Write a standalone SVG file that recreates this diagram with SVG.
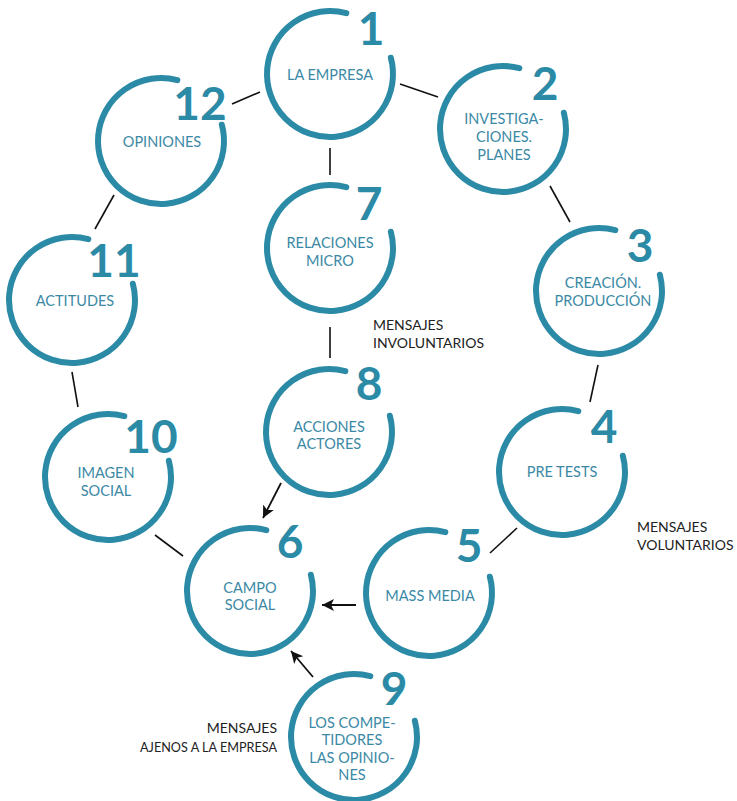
<svg xmlns="http://www.w3.org/2000/svg" xmlns:xlink="http://www.w3.org/1999/xlink" width="737" height="801" viewBox="0 0 737 801">
  <style>
    .ring { fill: none; stroke: #2b8aa6; stroke-width: 6; stroke-linecap: round; }
    .num { font-family: Lato, "Liberation Sans", sans-serif; font-weight: 700; font-size: 46px; fill: #2b8aa6; text-anchor: middle; }
    .lbl { font-family: Lato, "Liberation Sans", sans-serif; font-size: 14.5px; fill: #3b89a5; text-anchor: middle; }
    .note { font-family: Lato, "Liberation Sans", sans-serif; font-size: 14px; fill: #222; }
    .link { stroke: #111; stroke-width: 1.6; fill: none; }
    .arrow { stroke: #111; stroke-width: 1.8; fill: none; marker-end: url(#head); }
  </style>
  <defs>
    <!-- open ring, gap at upper right for the step number -->
    <path id="ring" class="ring" d="M 60.85 -16.31 A 63 63 0 1 1 16.31 -60.85"/>
    <marker id="head" markerUnits="userSpaceOnUse" markerWidth="14" markerHeight="14" refX="12" refY="6" orient="auto">
      <path d="M0,0 L12,6 L0,12 L3,6 Z" fill="#111"/>
    </marker>
  </defs>
  <rect width="737" height="801" fill="#fff"/>

  <g id="connectors">
    <line class="link" x1="232" y1="104" x2="260" y2="92"/>
    <line class="link" x1="400" y1="84" x2="438" y2="97"/>
    <line class="link" x1="330" y1="148" x2="330" y2="175"/>
    <line class="link" x1="550" y1="186" x2="570" y2="222"/>
    <line class="link" x1="598" y1="365" x2="590" y2="402"/>
    <line class="link" x1="517" y1="528" x2="490" y2="553"/>
    <line class="link" x1="330" y1="327" x2="330" y2="358"/>
    <line class="link" x1="114" y1="195" x2="95" y2="229"/>
    <line class="link" x1="72" y1="372" x2="78" y2="407"/>
    <line class="link" x1="155" y1="535" x2="183" y2="556"/>
    <line class="arrow" x1="281" y1="483" x2="263" y2="518"/>
    <line class="arrow" x1="356" y1="605" x2="322" y2="605"/>
    <line class="arrow" x1="313" y1="677" x2="291" y2="651"/>
  </g>

  <g id="n1">
    <use xlink:href="#ring" x="330" y="74"/>
    <text class="num" x="371" y="45" font-size="44">1</text>
    <text class="lbl" x="330" y="80">LA EMPRESA</text>
  </g>
  <g id="n2">
    <use xlink:href="#ring" x="503" y="129"/>
    <text class="num" x="545" y="100">2</text>
    <text class="lbl" x="504" y="124">INVESTIGA-</text>
    <text class="lbl" x="504" y="142">CIONES.</text>
    <text class="lbl" x="504" y="160">PLANES</text>
  </g>
  <g id="n3">
    <use xlink:href="#ring" x="599" y="291"/>
    <text class="num" x="640" y="262">3</text>
    <text class="lbl" x="603" y="288">CREACIÓN.</text>
    <text class="lbl" x="603" y="306">PRODUCCIÓN</text>
  </g>
  <g id="n4">
    <use xlink:href="#ring" x="562" y="472"/>
    <text class="num" x="604" y="443">4</text>
    <text class="lbl" x="562" y="477">PRE TESTS</text>
  </g>
  <g id="n5">
    <use xlink:href="#ring" x="429" y="593"/>
    <text class="num" x="469" y="562">5</text>
    <text class="lbl" x="430" y="601">MASS MEDIA</text>
  </g>
  <g id="n6">
    <use xlink:href="#ring" x="250" y="591"/>
    <text class="num" x="290" y="558">6</text>
    <text class="lbl" x="250" y="593">CAMPO</text>
    <text class="lbl" x="250" y="610">SOCIAL</text>
  </g>
  <g id="n7">
    <use xlink:href="#ring" x="330" y="248"/>
    <text class="num" x="369" y="220">7</text>
    <text class="lbl" x="330" y="248">RELACIONES</text>
    <text class="lbl" x="330" y="266">MICRO</text>
  </g>
  <g id="n8">
    <use xlink:href="#ring" x="329" y="432"/>
    <text class="num" x="369" y="400">8</text>
    <text class="lbl" x="329" y="432">ACCIONES</text>
    <text class="lbl" x="329" y="449">ACTORES</text>
  </g>
  <g id="n9">
    <use xlink:href="#ring" x="354" y="737"/>
    <text class="num" x="394" y="705">9</text>
    <text class="lbl" x="352" y="728">LOS COMPE-</text>
    <text class="lbl" x="352" y="745">TIDORES</text>
    <text class="lbl" x="352" y="763">LAS OPINIO-</text>
    <text class="lbl" x="352" y="780">NES</text>
  </g>
  <g id="n10">
    <use xlink:href="#ring" x="108" y="477"/>
    <text class="num" x="151" y="453">10</text>
    <text class="lbl" x="106" y="478">IMAGEN</text>
    <text class="lbl" x="106" y="496">SOCIAL</text>
  </g>
  <g id="n11">
    <use xlink:href="#ring" x="72" y="300"/>
    <text class="num" x="114" y="277">11</text>
    <text class="lbl" x="75" y="306">ACTITUDES</text>
  </g>
  <g id="n12">
    <use xlink:href="#ring" x="161" y="141"/>
    <text class="num" x="200" y="120">12</text>
    <text class="lbl" x="162" y="147">OPINIONES</text>
  </g>

  <g id="notes">
    <text class="note" x="373" y="330">MENSAJES</text>
    <text class="note" x="373" y="348">INVOLUNTARIOS</text>
    <text class="note" x="637" y="532">MENSAJES</text>
    <text class="note" x="637" y="550">VOLUNTARIOS</text>
    <text class="note" x="277" y="733" text-anchor="end">MENSAJES</text>
    <text class="note" x="140" y="752" font-size="13.5" textLength="137" lengthAdjust="spacingAndGlyphs">AJENOS A LA EMPRESA</text>
  </g>
</svg>
